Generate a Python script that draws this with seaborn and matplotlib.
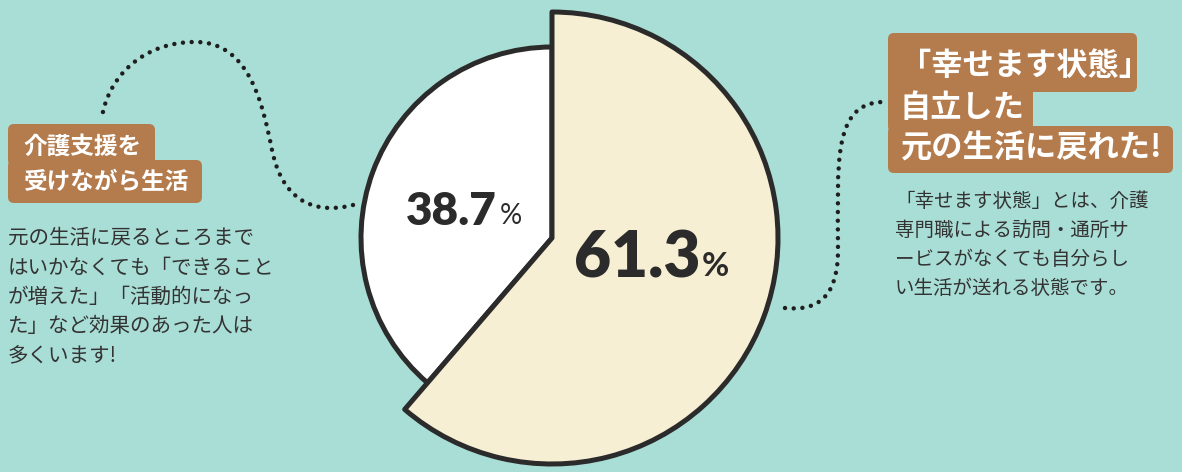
import numpy as np
import matplotlib
matplotlib.use("Agg")
import matplotlib.pyplot as plt
import seaborn as sns
from matplotlib.path import Path
from matplotlib.patches import PathPatch, FancyBboxPatch

# data
labels = ["自立した", "介護支援を受けながら生活"]
values = [61.3, 38.7]
colors = ["#f7efd3", "#ffffff"]
pct_text = ["61.3", "38.7"]

left_title = ["介護支援を", "受けながら生活"]
left_body = ["元の生活に戻るところまで",
             "はいかなくても「できること",
             "が増えた」「活動的になっ",
             "た」など効果のあった人は",
             "多くいます!"]
right_title = ["「幸せます状態」", "自立した", "元の生活に戻れた!"]
right_body = ["「幸せます状態」とは、介護",
              "専門職による訪問・通所サ",
              "ービスがなくても自分らし",
              "い生活が送れる状態です。"]

bg = "#a9ded6"
brown = "#b47b4d"
ink = "#2b2b2b"

sns.set_theme(style="white")
plt.rcParams["font.family"] = ["Noto Sans CJK JP", "DejaVu Sans"]

fig = plt.figure(figsize=(11.82, 4.72), dpi=100, facecolor=bg)
ax = fig.add_axes([0, 0, 1, 1])
ax.set_facecolor(bg)

# pie (y axis is flipped later, so counterclock=True looks clockwise)
cx, cy = 552, 238
wedges, _ = ax.pie(values, colors=colors, startangle=-90, counterclock=True,
                   radius=226, center=(cx, cy),
                   wedgeprops=dict(edgecolor=ink, linewidth=3.6, joinstyle="round"))
wedges[1].set_radius(191)
wedges[1].set_zorder(1)
wedges[0].set_zorder(2)

ax.set_xlim(0, 1182)
ax.set_ylim(472, 0)
ax.set_aspect("equal")
ax.axis("off")

# percentage labels
num_font = ["Lato", "DejaVu Sans"]
ax.text(497, 225, pct_text[1], family=num_font, weight="heavy", fontsize=33,
        color=ink, ha="right", va="baseline", zorder=5)
ax.text(500, 224, "%", family=num_font, fontsize=20, color=ink,
        ha="left", va="baseline", zorder=5)
ax.text(701, 277, pct_text[0], family=num_font, weight="heavy", fontsize=46,
        color=ink, ha="right", va="baseline", zorder=5)
ax.text(702, 276, "%", family=num_font, weight="bold", fontsize=24,
        color=ink, ha="left", va="baseline", zorder=5)


def box(x0, y0, x1, y1):
    ax.add_patch(FancyBboxPatch((x0 + 6, y0 + 6), x1 - x0 - 12, y1 - y0 - 12,
                                boxstyle="round,pad=6", fc=brown, ec="none", zorder=3))


# left title boxes
box(8, 124, 155, 166)
box(8, 160, 202, 203)
for i, t in enumerate(left_title):
    ax.text(23, 147 + i * 35, t, color="white", fontsize=17, weight="bold",
            ha="left", va="center", zorder=4)
for i, t in enumerate(left_body):
    ax.text(8, 238 + i * 29.5, t, color="#333333", fontsize=14.8, ha="left",
            va="center", zorder=4)

# right title boxes
box(888, 33, 1137, 92)
box(888, 84, 1033, 132)
box(888, 126, 1173, 173)
for i, t in enumerate(right_title):
    ax.text(900, 66 + i * 41.5, t, color="white", fontsize=22.5, weight="bold",
            ha="left", va="center", zorder=4)
for i, t in enumerate(right_body):
    ax.text(895, 201 + i * 29.3, t, color="#333333", fontsize=14, ha="left",
            va="center", zorder=4)

# dotted connectors
C = Path.CURVE4
left_path = Path([(353, 205), (322, 213), (284, 208), (272, 150),
                  (262, 100), (248, 42), (195, 42),
                  (142, 42), (108, 78), (102, 117)],
                 [Path.MOVETO, C, C, C, C, C, C, C, C, C])
right_path = Path([(785, 308), (815, 311), (838, 300), (838, 250),
                   (838, 165), (832, 104), (882, 102)],
                  [Path.MOVETO, C, C, C, C, C, C])
for p in (left_path, right_path):
    ax.add_patch(PathPatch(p, fc="none", ec="#1e1e1e", lw=3.2,
                           linestyle=(0, (0.01, 1.95)), capstyle="round", zorder=2))

fig.savefig("out.png", dpi=100, facecolor=bg)
